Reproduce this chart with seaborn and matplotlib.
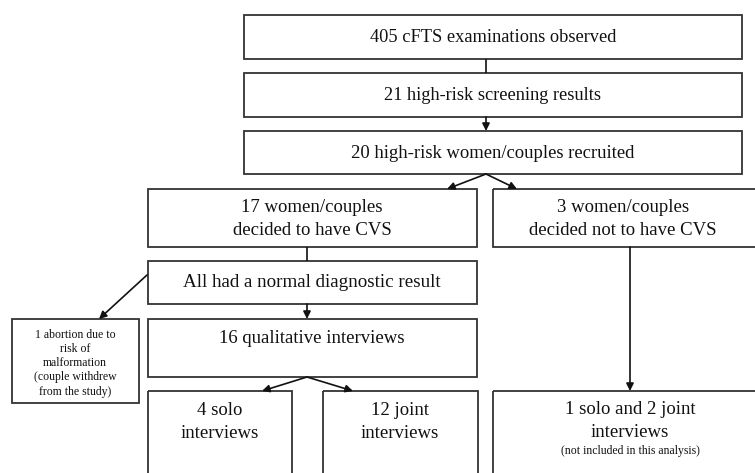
import matplotlib
matplotlib.use("Agg")
import matplotlib.pyplot as plt
from matplotlib.patches import Rectangle
import seaborn as sns

sns.set_theme(style="white")
plt.rcParams['font.family'] = ['Liberation Serif', 'DejaVu Serif']

# ---- content ----
box_labels = [
    "405 cFTS examinations observed",
    "21 high-risk screening results",
    "20 high-risk women/couples recruited",
    "17 women/couples\ndecided to have CVS",
    "3 women/couples\ndecided not to have CVS",
    "All had a normal diagnostic result",
    "16 qualitative interviews",
    "1 abortion due to\nrisk of\nmalformation\n(couple withdrew\nfrom the study)",
    "4 solo\ninterviews",
    "12 joint\ninterviews",
    "1 solo and 2 joint\ninterviews",
]
note_label = "(not included in this analysis)"

# ---- layout (pixel coordinates, y downward) ----
W, H = 755, 473
boxes = [  # x0, y0, x1, y1
    (244, 15, 742, 59),
    (244, 73, 742, 117),
    (244, 131, 742, 174),
    (148, 189, 477, 247),
    (493, 189, 770, 247),
    (148, 261, 477, 304),
    (148, 319, 477, 377),
    (12, 319, 139, 403),
    (148, 391, 292, 490),
    (323, 391, 478, 490),
    (493, 391, 770, 490),
]
text_pos = [
    (493, 37), (493, 95), (493, 153),
    (312, 219), (623, 219),
    (312, 282), (312, 338),
    (75, 363),
    (220, 422), (400, 422), (630, 421),
]
text_size = [13.2, 13.2, 13.4, 13.5, 13.5, 13.7, 13.5, 8.5, 13.5, 13.5, 13.5]

fig = plt.figure(figsize=(W / 100, H / 100), dpi=100)
ax = fig.add_axes([0, 0, 1, 1])
ax.set_xlim(0, W)
ax.set_ylim(H, 0)
ax.axis("off")

edge = "#333333"
for (x0, y0, x1, y1) in boxes:
    ax.add_patch(Rectangle((x0, y0), x1 - x0, y1 - y0, fill=False,
                           ec=edge, lw=1.3))

for lab, (x, y), fs in zip(box_labels, text_pos, text_size):
    ls = 1.25 if fs < 10 else 1.4
    ax.text(x, y, lab, ha="center", va="center", fontsize=fs,
            linespacing=ls, color="#111111")
ax.text(630, 451, note_label, ha="center", va="center", fontsize=8.5,
        color="#111111")

# plain connectors
def line(p, q):
    ax.plot([p[0], q[0]], [p[1], q[1]], color="#111111", lw=1.2,
            solid_capstyle="butt")

def arrow(p, q):
    ax.annotate("", xy=q, xytext=p,
                arrowprops=dict(arrowstyle="-|>", color="#111111", lw=1.2,
                                mutation_scale=11, shrinkA=0, shrinkB=0))

line((486, 59), (486, 73))
arrow((486, 117), (486, 131))
arrow((486, 174), (447, 189))
arrow((486, 174), (517, 189))
line((307, 247), (307, 261))
arrow((307, 304), (307, 319))
arrow((147, 275), (99, 319))
arrow((307, 377), (262, 391))
arrow((307, 377), (353, 391))
arrow((630, 247), (630, 391))

fig.savefig("out.png", dpi=100)
